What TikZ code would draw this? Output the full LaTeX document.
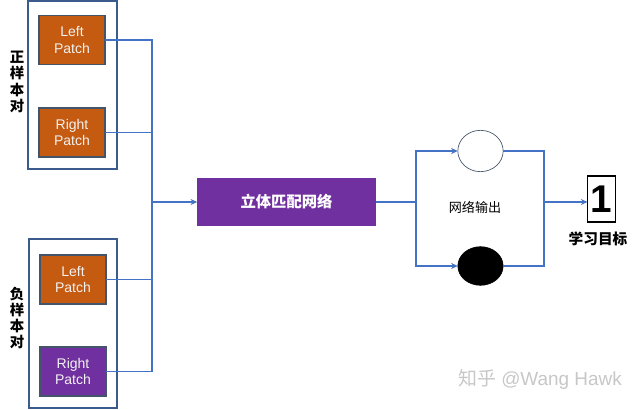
\documentclass[tikz,border=0pt]{standalone}
\usepackage{fontspec}
\setmainfont{Liberation Sans}
\newfontfamily\cjk{Noto Sans CJK SC}
\usetikzlibrary{arrows.meta,shapes.geometric}
\definecolor{linkblue}{HTML}{4472C4}
\definecolor{grpblue}{HTML}{3B5A8E}
\definecolor{patchedge}{HTML}{44546A}
\definecolor{patchorange}{HTML}{C55A11}
\definecolor{netpurple}{HTML}{7030A0}

\begin{document}
\begin{tikzpicture}[
                    x=0.75pt, y=-0.75pt,
                    every node/.style={inner sep=0pt, outer sep=0pt},
                    group/.style={draw=grpblue, line width=1.6pt, minimum width=66.5pt, minimum height=126.5pt},
                    patch/.style={draw=patchedge, line width=1.1pt, fill=patchorange, text=white!95!black,
                                  minimum width=49.5pt, minimum height=36.5pt, align=center, font=\fontsize{10.5}{12.5}\selectfont},
                    pairlabel/.style={align=center, font=\cjk\bfseries\fontsize{10.8}{12.2}\selectfont},
                    link/.style={draw=linkblue, line width=1.1pt},
                    arrow/.style={link, -{Stealth[length=5pt, width=4.5pt]}}
                ]
                
                \useasboundingbox (0,0) rectangle (640,410);
                % positive pair
                \node[group] (grpPos) at (72.5,85) {};
                \node[patch] (posL) at (72,40) {Left\\Patch};
                \node[patch] (posR) at (72,132.5) {Right\\Patch};
                \node[pairlabel] (posLbl) at (17,82) {正\\样\\本\\对};
                % negative pair
                \node[group] (grpNeg) at (73,323.5) {};
                \node[patch] (negL) at (73,279.5) {Left\\Patch};
                \node[patch, fill=netpurple] (negR) at (73,371.5) {Right\\Patch};
                \node[pairlabel] (negLbl) at (17,318) {负\\样\\本\\对};
                % network
                \node[fill=netpurple, minimum width=134pt, minimum height=36pt, text=white,
                      font=\cjk\bfseries\fontsize{11.5}{13}\selectfont] (net) at (286.5,202) {立体匹配网络};
                \node[draw=patchedge, line width=0.5pt, ellipse, minimum width=34pt, minimum height=31pt] (outA) at (480.5,151) {};
                \node[draw, fill=black, ellipse, minimum width=34pt, minimum height=29pt] (outB) at (480.5,266) {};
                \node[font=\cjk\fontsize{9.8}{11}\selectfont] (outLbl) at (475,207) {网络输出};
                \node[draw, line width=1.3pt, minimum width=21pt, minimum height=35pt,
                      font=\bfseries\fontsize{29}{30}\selectfont] (target) at (601.5,199) {1};
                \node[font=\cjk\bfseries\fontsize{11}{12}\selectfont] (targetLbl) at (598,239) {学习目标};
                \node[text=black!22, font=\fontsize{14.2}{15}\selectfont] (mark) at (540,380) {{\cjk 知乎} @Wang Hawk};
                % connectors
                \coordinate (bus) at (152,202);
                \coordinate (split) at (416,202);
                \coordinate (merge) at (544,202);
                \draw[link] (posL.east) -| (bus);
                \draw[link] (posR.east) -| (bus);
                \draw[link] (negL.east) -| (bus);
                \draw[link] (negR.east) -| (bus);
                \draw[arrow] (bus) -- (net.west);
                \draw[link] (net.east) -- (split);
                \draw[arrow] (split) |- (outA.west);
                \draw[arrow] (split) |- (outB.west);
                \draw[link] (outA.east) -| (merge);
                \draw[link] (outB.east) -| (merge);
                \draw[arrow] (merge) -- (merge -| target.west);
            \end{tikzpicture}
\end{document}
